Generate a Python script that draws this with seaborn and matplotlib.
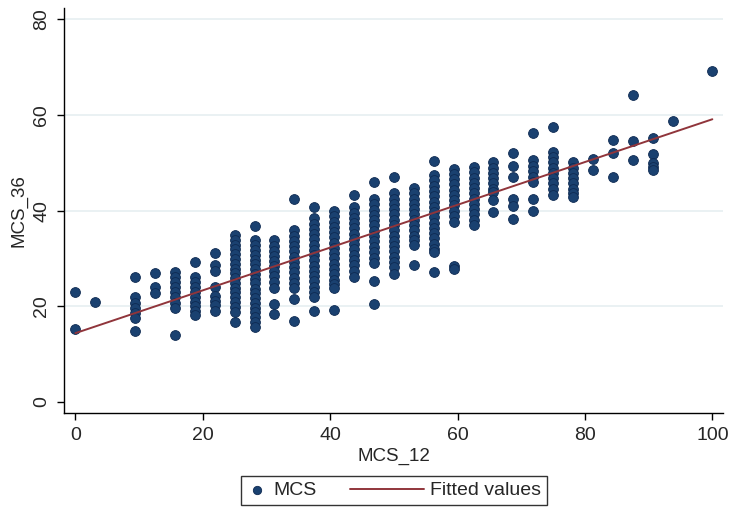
import numpy as np
import matplotlib
matplotlib.use("Agg")
import matplotlib.pyplot as plt
from matplotlib.lines import Line2D
from matplotlib.legend_handler import HandlerLine2D
import seaborn as sns
import pandas as pd

# MCS_12 score levels (x) and the MCS_36 values seen at each level (y)
mcs12_levels = [0, 3.125, 9.375, 12.5, 15.625, 18.75, 21.875, 25, 28.125, 31.25,
                34.375, 37.5, 40.625, 43.75, 46.875, 50, 53.125, 56.25, 59.375, 62.5,
                65.625, 68.75, 71.875, 75, 78.125, 81.25, 84.375, 87.5, 90.625, 93.75, 100]

mcs36_by_level = [
    [23.0, 15.2],
    [20.9],
    [26.1, 21.9, 20.8, 19.7, 18.6, 17.5, 14.8],
    [26.9, 24.0, 22.8],
    [27.1, 26.1, 25.0, 24.0, 23.0, 21.9, 20.8, 19.6, 14.0],
    [29.2, 26.1, 25.1, 24.0, 23.0, 22.0, 21.0, 20.0, 19.1, 18.2],
    [31.2, 28.6, 27.3, 24.0, 22.2, 21.2, 20.2, 19.1],
    [34.9, 33.9, 32.9, 31.9, 30.9, 29.9, 28.9, 27.9, 26.9, 25.9, 24.9, 23.9, 22.9,
     21.9, 20.9, 19.9, 18.8, 16.7],
    [36.7, 33.8, 32.8, 31.7, 30.8, 29.7, 28.8, 27.7, 26.8, 25.7, 24.8, 23.7, 22.8,
     21.7, 20.8, 19.7, 18.8, 17.7, 16.7, 15.7],
    [33.8, 32.7, 31.6, 30.6, 29.5, 28.5, 27.4, 26.3, 25.0, 23.8, 20.4, 18.3],
    [42.4, 35.9, 34.8, 33.7, 32.6, 31.5, 30.4, 29.3, 28.2, 27.1, 26.0, 24.9, 23.8,
     21.5, 16.9],
    [40.7, 38.4, 37.3, 36.2, 35.1, 34.0, 32.9, 31.8, 30.7, 29.6, 28.5, 27.4, 26.3,
     25.2, 24.1, 23.0, 21.9, 19.0],
    [39.9, 38.8, 37.7, 36.6, 35.5, 34.4, 33.3, 32.2, 31.1, 30.0, 28.9, 27.8, 26.7,
     25.6, 24.6, 23.8, 19.2],
    [43.2, 40.7, 39.6, 38.5, 37.4, 36.3, 35.2, 34.1, 33.0, 31.9, 30.8, 29.7, 28.6,
     27.4, 26.1],
    [45.9, 42.4, 41.3, 40.2, 39.1, 38.0, 36.9, 35.8, 34.7, 33.6, 32.5, 31.4, 30.2,
     29.0, 25.3, 20.5],
    [47.0, 43.6, 42.5, 41.4, 40.3, 39.2, 38.1, 37.0, 35.9, 34.8, 33.7, 32.6, 31.5,
     30.4, 29.3, 28.2, 26.7],
    [44.7, 43.6, 42.5, 41.4, 40.3, 39.2, 38.1, 37.0, 35.9, 34.8, 33.8, 32.8, 28.6],
    [50.3, 47.4, 46.3, 45.2, 44.1, 43.0, 41.9, 40.8, 39.7, 38.6, 37.5, 36.4, 35.3,
     34.2, 33.1, 32.0, 31.3, 27.1],
    [48.8, 47.7, 46.6, 45.5, 44.4, 43.3, 42.2, 41.1, 40.0, 38.9, 37.6, 28.4, 27.8],
    [49.1, 48.0, 46.9, 45.8, 44.7, 43.6, 42.5, 41.4, 40.3, 39.2, 38.1, 37.0],
    [50.1, 49.0, 47.9, 46.8, 45.7, 44.6, 43.8, 42.2, 39.7],
    [52.0, 49.4, 47.0, 42.5, 41.0, 38.3],
    [56.2, 50.5, 49.4, 48.3, 47.0, 45.9, 42.5, 39.9],
    [57.4, 52.3, 51.2, 50.1, 49.0, 47.9, 46.8, 45.7, 44.5, 43.3],
    [50.1, 49.0, 47.9, 46.8, 45.7, 44.6, 43.6, 42.8],
    [50.7, 48.4],
    [54.7, 52.0, 47.0],
    [64.1, 54.5, 50.5],
    [55.1, 51.8, 50.0, 49.2, 48.4],
    [58.7],
    [69.1],
]

# fitted regression line, read at both ends
fit_x = [0, 100]
fit_y = [14.4, 59.1]

x_ticks = [0, 20, 40, 60, 80, 100]
y_ticks = [0, 20, 40, 60, 80]

navy = "#1a4170"
maroon = "#90353b"


def build_frame():
    xs, ys = [], []
    for lvl, vals in zip(mcs12_levels, mcs36_by_level):
        for v in vals:
            xs.append(lvl)
            ys.append(v)
    return pd.DataFrame({"MCS_12": xs, "MCS_36": ys})


def main():
    sns.set_style("white")
    plt.rcParams["font.family"] = ["Liberation Sans", "DejaVu Sans"]

    df = build_frame()
    fit = pd.DataFrame({"MCS_12": fit_x, "MCS_36": fit_y})

    fig = plt.figure(figsize=(7.44, 5.15), dpi=100)
    ax = fig.add_axes([0.086, 0.198, 0.886, 0.786])

    for t in y_ticks[1:]:
        ax.axhline(t, color="#e6eff1", lw=1.2, zorder=0)

    sns.scatterplot(data=df, x="MCS_12", y="MCS_36", ax=ax, color=navy,
                    edgecolor="#0e2a52", linewidth=0.6, s=50, label="MCS", zorder=3)
    sns.lineplot(data=fit, x="MCS_12", y="MCS_36", ax=ax, color=maroon, lw=1.4,
                 label="Fitted values", zorder=4)

    ax.set_xlim(-1.8, 101.7)
    ax.set_ylim(-2.3, 82.3)
    ax.set_xticks(x_ticks)
    ax.set_yticks(y_ticks)
    ax.set_yticklabels([str(t) for t in y_ticks], rotation=90, va="center")

    for side in ["top", "right"]:
        ax.spines[side].set_visible(False)
    for side in ["left", "bottom"]:
        ax.spines[side].set_color("black")
        ax.spines[side].set_linewidth(1.0)

    ax.tick_params(axis="both", which="major", direction="out", length=5, width=1,
                   color="black", labelsize=14, pad=5, bottom=True, left=True)
    ax.set_xlabel("MCS_12", fontsize=13.5, labelpad=3)
    ax.set_ylabel("MCS_36", fontsize=13.5, labelpad=4)

    ax.get_legend().remove()
    handles, labels = ax.get_legend_handles_labels()
    # the fitted-line key is long and reaches to the left of its small slot
    hmap = {h: HandlerLine2D(xpad=-2.8) for h in handles if isinstance(h, Line2D)}
    leg = fig.legend(handles, labels, loc="lower center", bbox_to_anchor=(0.53, 0.0),
                     ncol=2, frameon=True, fancybox=False, fontsize=14,
                     handlelength=1.0, handletextpad=0.35, columnspacing=4.5,
                     borderpad=0.3, edgecolor="black", markerscale=0.85,
                     handler_map=hmap)
    leg.get_frame().set_linewidth(1.0)

    fig.savefig("out.png", dpi=100)


if __name__ == "__main__":
    main()
